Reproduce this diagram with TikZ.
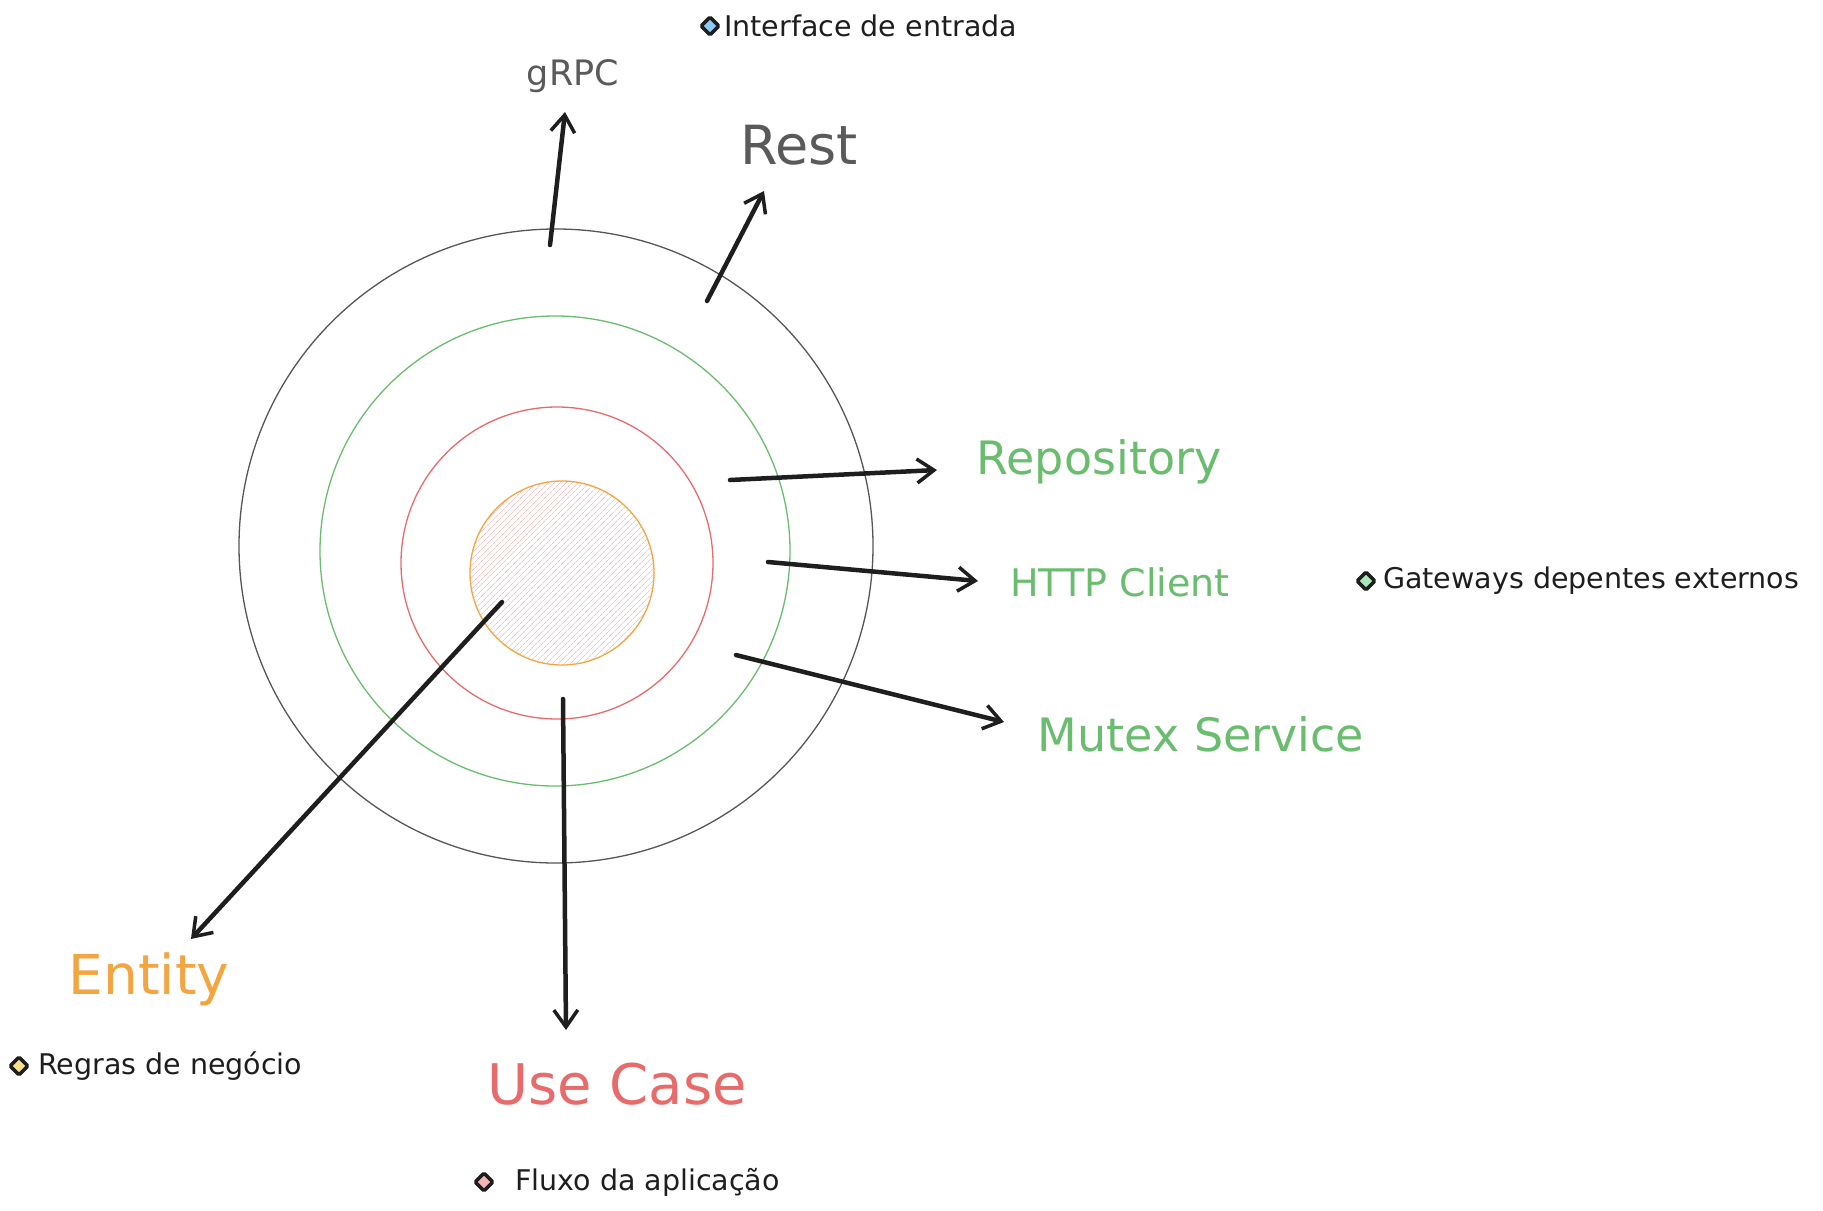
\documentclass[tikz,border=0pt]{standalone}
\usepackage{fontspec}
\setmainfont{DejaVu Sans}
\usetikzlibrary{arrows.meta,patterns.meta}

\definecolor{inkblack}{HTML}{1E1E1E}
\definecolor{labelgray}{HTML}{5A5A5A}
\definecolor{ringgreen}{HTML}{6ABD6E}
\definecolor{ringred}{HTML}{E86B6B}
\definecolor{ringorange}{HTML}{F2A541}
\definecolor{hatchpink}{HTML}{F7C4C4}
\definecolor{keyblue}{HTML}{8CCBF5}
\definecolor{keygreen}{HTML}{A6E8B8}
\definecolor{keyyellow}{HTML}{FBE08A}
\definecolor{keypink}{HTML}{F5B5B5}

\newcommand{\fs}[1]{\fontsize{#1}{#1}\selectfont}

\tikzset{
  ring/.style={draw, line width=1.3pt},
  flow/.style={draw=inkblack, line width=4.5pt, line cap=round,
    -{Straight Barb[length=17pt,width=24pt,line width=3.5pt]}},
  keymark/.style={draw=inkblack, line width=3.5pt, rounded corners=1.5pt,
    minimum size=12.5pt, inner sep=0pt, rotate=45},
  keytext/.style={anchor=west, inner sep=0pt, text=inkblack, font=\fs{28.5}},
  big/.style={inner sep=0pt}
}

\begin{document}
\begin{tikzpicture}[x=1pt,y=-1pt]
  \useasboundingbox[fill=white] (0,0) rectangle (1823,1210);

  \draw[ring, draw=inkblack!75] (556,546) circle (317);
  \draw[ring, draw=ringgreen] (555,551) circle (235);
  \draw[ring, draw=ringred] (557,563) circle (156);
  \draw[ring, draw=ringorange, pattern={Lines[angle=45,distance=4pt,line width=0.7pt]}, pattern color=hatchpink] (562,573) circle (92);

  \path (573,76) node[big, text=labelgray, font=\fs{35}] (grpc) {gRPC}
        (799,145) node[big, text=labelgray, font=\fs{54}] (rest) {Rest}
        (1099,462) node[big, text=ringgreen, font=\fs{46}] (repo) {Repository}
        (1120,582) node[big, text=ringgreen, font=\fs{38}] (http) {HTTP Client}
        (1201,734) node[big, text=ringgreen, font=\fs{46}] (mutex) {Mutex Service}
        (149,979) node[big, text=ringorange, font=\fs{55}] (entity) {Entity}
        (617,1084) node[big, text=ringred, font=\fs{56}] (usecase) {Use Case};

  \path (550,245) coordinate (grpc-tail) (565,112) coordinate (grpc-head)
        (707,301) coordinate (rest-tail) (764,191) coordinate (rest-head)
        (730,480) coordinate (repo-tail) (937,470) coordinate (repo-head)
        (768,562) coordinate (http-tail) (978,581) coordinate (http-head)
        (736,655) coordinate (mutex-tail) (1004,722) coordinate (mutex-head)
        (502,602) coordinate (entity-tail) (191,939) coordinate (entity-head)
        (563,699) coordinate (usecase-tail) (566,1030) coordinate (usecase-head);

  \draw[flow] (grpc-tail) -- (grpc-head);
  \draw[flow] (rest-tail) -- (rest-head);
  \draw[flow] (repo-tail) -- (repo-head);
  \draw[flow] (http-tail) -- (http-head);
  \draw[flow] (mutex-tail) -- (mutex-head);
  \draw[flow] (entity-tail) -- (entity-head);
  \draw[flow] (usecase-tail) -- (usecase-head);

  \node[keymark, fill=keyblue] (key-in) at (710,26) {};
  \node[keytext] (key-in-text) at (724,26) {Interface de entrada};
  \node[keymark, fill=keygreen] (key-gw) at (1366,581) {};
  \node[keytext] (key-gw-text) at (1383,581) {Gateways depentes externos};
  \node[keymark, fill=keyyellow] (key-rule) at (19,1066) {};
  \node[keytext] (key-rule-text) at (38,1066) {Regras de negócio};
  \node[keymark, fill=keypink] (key-flow) at (484,1182) {};
  \node[keytext] (key-flow-text) at (515,1182) {Fluxo da aplicação};
\end{tikzpicture}
\end{document}
